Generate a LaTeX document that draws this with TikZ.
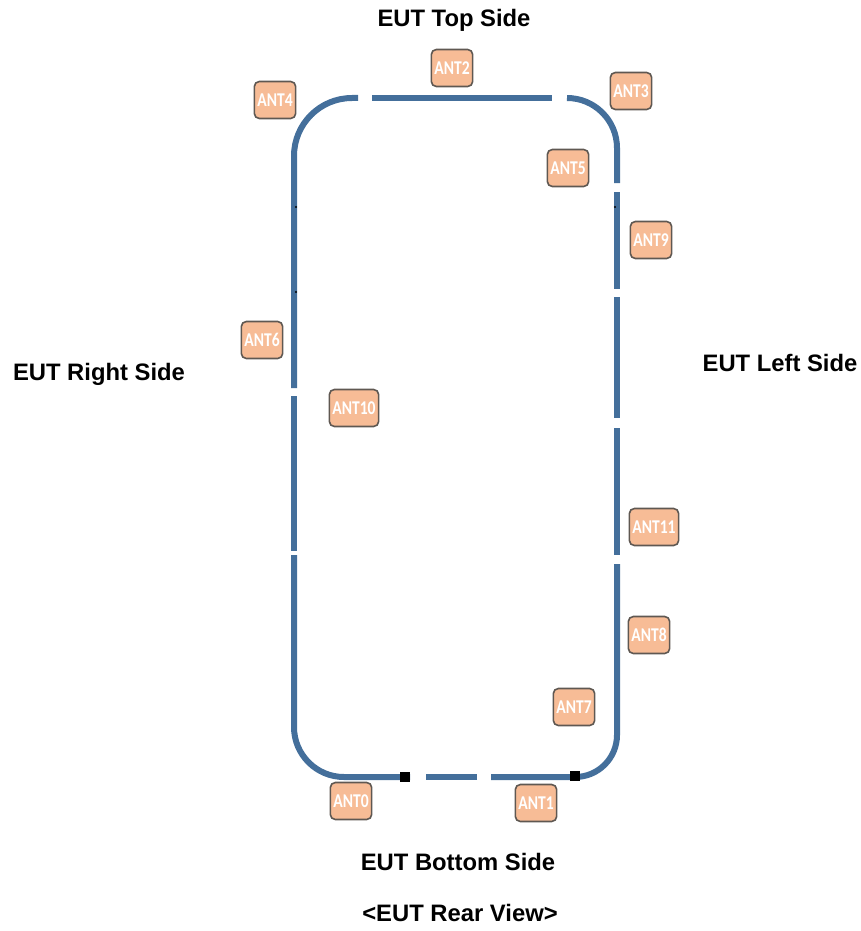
\documentclass[tikz,border=0pt]{standalone}
\usepackage{fontspec}
\setmainfont{Liberation Sans}
\newfontfamily\antfont[FakeStretch=0.8]{Carlito}
\definecolor{frameblue}{RGB}{68,111,155}
\definecolor{antfill}{RGB}{247,188,150}
\definecolor{antline}{RGB}{95,88,82}
\begin{document}
\begin{tikzpicture}[x=1pt,y=-1pt,
  frame/.style={line width=6pt,frameblue},
  ant/.style={draw=antline,line width=1.6pt,fill=antfill,rounded corners=5pt,
    minimum width=41pt,minimum height=37pt,inner xsep=3pt,
    text=white,font=\antfont\bfseries\fontsize{19.5}{21}\selectfont},
  side/.style={font=\bfseries\fontsize{23.8}{28}\selectfont}]

  \useasboundingbox (0,0) rectangle (861,931);

  \def\xl{294}
  \def\xr{617}
  \def\yt{98}
  \def\yb{777}

  % outline of the EUT, broken where the antennas sit
  \draw[frame,rounded corners=58pt] (358,\yt) -- (\xl,\yt) -- (\xl,388);
  \draw[frame] (372,\yt) -- (552,\yt);
  \draw[frame,rounded corners=50pt] (567,\yt) -- (\xr,\yt) -- (\xr,183);
  \draw[frame] (\xr,192) -- (\xr,289);
  \draw[frame] (\xr,297) -- (\xr,418);
  \draw[frame] (\xr,428) -- (\xr,555);
  \draw[frame,rounded corners=42pt] (\xr,564) -- (\xr,\yb) -- (491,\yb);
  \draw[frame] (477,\yb) -- (426,\yb);
  \draw[frame,rounded corners=50pt] (410,\yb) -- (\xl,\yb) -- (\xl,555);
  \draw[frame] (\xl,396) -- (\xl,551);

  \fill[black] (400,772) rectangle (410,782);
  \fill[black] (570,771) rectangle (580,781);
  \fill[black] (296,207) circle (1.2);
  \fill[black] (296,292) circle (1.2);
  \fill[black] (615,207) circle (1.2);

  % antennas
  \node[ant] (ant0) at (351,801) {ANT0};
  \node[ant] (ant1) at (536,803) {ANT1};
  \node[ant] (ant2) at (452,68) {ANT2};
  \node[ant] (ant3) at (631,91) {ANT3};
  \node[ant] (ant4) at (275,100) {ANT4};
  \node[ant] (ant5) at (568,168) {ANT5};
  \node[ant] (ant6) at (262,340) {ANT6};
  \node[ant] (ant7) at (574,707) {ANT7};
  \node[ant] (ant8) at (649,635) {ANT8};
  \node[ant] (ant9) at (651,240) {ANT9};
  \node[ant] (ant10) at (354,408) {ANT10};
  \node[ant] (ant11) at (654,527) {ANT11};

  % side labels
  \node[side] (top) at (454,20) {EUT Top Side};
  \node[side] (right) at (99,374) {EUT Right Side};
  \node[side] (left) at (780,363) {EUT Left Side};
  \node[side] (bottom) at (458,862) {EUT Bottom Side};
  \node[side] (view) at (460,913) {<EUT Rear View>};

\end{tikzpicture}
\end{document}
